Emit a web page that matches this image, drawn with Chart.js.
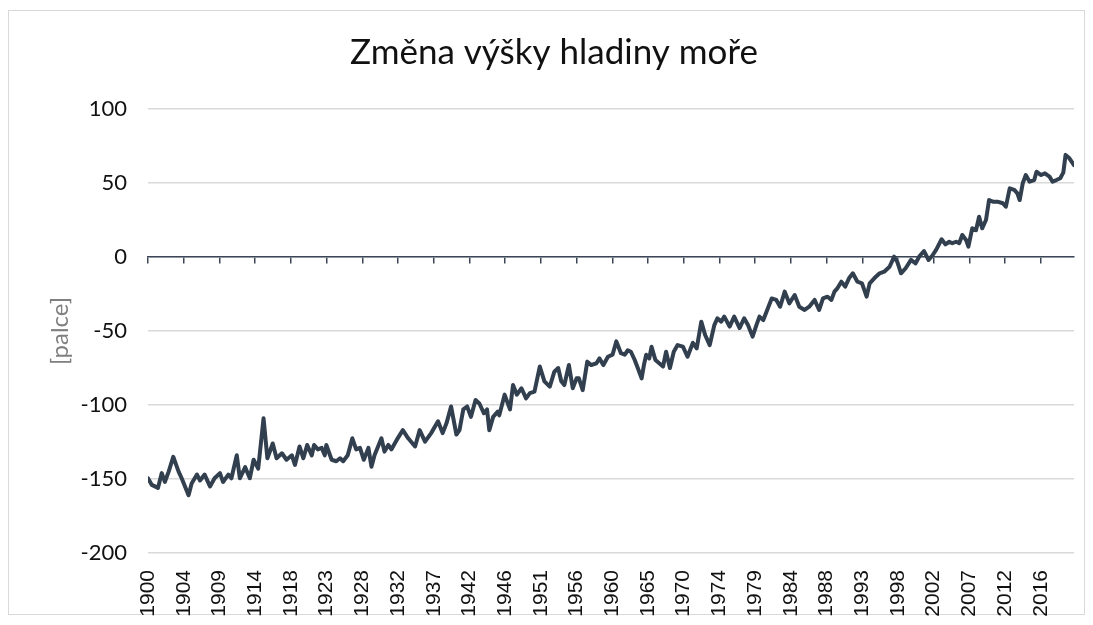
<!DOCTYPE html>
<html>
<head>
<meta charset="utf-8">
<script src="https://cdn.jsdelivr.net/npm/chart.js@4/dist/chart.umd.min.js"></script>
<style>
  html, body { margin: 0; padding: 0; background: #fff; }
  #frame { position: absolute; left: 8px; top: 10px; right: 8px; bottom: 10px; border: 1px solid #d9d9d9; }
  #wrap { position: absolute; left: 0; top: 0; width: 1093px; height: 625px; }
</style>
</head>
<body>
<div id="frame"></div>
<div id="wrap"><canvas id="chart"></canvas></div>
<script>
// roky (desetinné) a změna hladiny moře
const years = [
  1900.0, 1900.5, 1901.3, 1901.8, 1902.2, 1902.7, 1903.3, 1904.0, 1904.4, 1905.3,
  1905.7, 1906.4, 1906.8, 1907.4, 1908.1, 1908.7, 1909.4, 1909.8, 1910.5, 1910.9,
  1911.6, 1912.0, 1912.7, 1913.3, 1913.8, 1914.4, 1915.1, 1915.6, 1916.3, 1916.8,
  1917.5, 1918.1, 1918.8, 1919.2, 1919.8, 1920.3, 1920.8, 1921.4, 1921.7, 1922.2,
  1922.7, 1923.1, 1923.3, 1924.0, 1924.6, 1925.1, 1925.5, 1926.1, 1926.7, 1927.2,
  1927.7, 1928.2, 1928.8, 1929.2, 1929.6, 1930.5, 1930.9, 1931.4, 1931.8, 1932.5,
  1933.3, 1934.0, 1934.9, 1935.5, 1936.2, 1937.0, 1937.9, 1938.5, 1939.0, 1939.6,
  1940.3, 1940.7, 1941.2, 1941.7, 1942.2, 1942.8, 1943.3, 1943.9, 1944.3, 1944.6,
  1945.1, 1945.7, 1945.9, 1946.6, 1947.3, 1947.7, 1948.2, 1948.8, 1949.4, 1949.9,
  1950.5, 1951.2, 1951.8, 1952.5, 1953.1, 1953.6, 1954.0, 1954.4, 1955.0, 1955.5,
  1956.0, 1956.3, 1956.8, 1957.4, 1957.9, 1958.6, 1959.0, 1959.5, 1960.1, 1960.7,
  1961.2, 1961.8, 1962.3, 1962.7, 1963.1, 1963.6, 1964.0, 1964.5, 1964.8, 1965.1,
  1965.5, 1965.8, 1966.3, 1966.8, 1967.3, 1967.7, 1968.2, 1968.7, 1969.2, 1969.9,
  1970.5, 1971.2, 1971.7, 1972.3, 1972.8, 1973.4, 1974.0, 1974.4, 1974.9, 1975.3,
  1976.0, 1976.6, 1977.3, 1977.9, 1978.4, 1979.0, 1979.5, 1979.9, 1980.4, 1981.0,
  1981.5, 1982.1, 1982.6, 1983.2, 1983.8, 1984.5, 1985.1, 1985.8, 1986.4, 1987.1,
  1987.7, 1988.2, 1988.8, 1989.3, 1989.7, 1990.1, 1990.6, 1991.1, 1991.6, 1992.1,
  1992.7, 1993.3, 1993.9, 1994.3, 1994.9, 1995.6, 1996.2, 1996.9, 1997.5, 1997.9,
  1998.4, 1999.0, 1999.7, 2000.3, 2000.8, 2001.4, 2002.0, 2002.5, 2003.0, 2003.7,
  2004.2, 2004.7, 2005.1, 2005.6, 2006.0, 2006.4, 2006.9, 2007.2, 2007.7, 2008.2,
  2008.6, 2009.0, 2009.5, 2009.9, 2010.4, 2011.0, 2011.7, 2012.1, 2012.6, 2013.2,
  2013.6, 2013.9, 2014.3, 2014.7, 2015.2, 2015.8, 2016.1, 2016.7, 2017.2, 2017.8,
  2018.2, 2018.7, 2019.2, 2019.6, 2019.9, 2020.4, 2021.0
];
const seaLevel = [
  -149.5, -154, -156, -146, -152, -145, -135, -145, -149.5, -161,
  -153, -147, -151, -147, -155, -149.5, -146, -152, -147, -149.5,
  -134, -149.5, -142, -149.5, -137, -143, -109, -136, -126, -136,
  -132.6, -137, -134, -140.5, -128, -136, -127, -134, -127, -130,
  -129, -134, -127, -137, -138, -136, -138, -134, -122.5, -130,
  -129, -137, -129, -141.7, -134, -122.5, -131.5, -127, -130, -123.6,
  -117, -122.5, -128, -117, -124.8, -119, -111, -119, -112.4, -101,
  -120, -117, -103, -101, -108, -96.6, -99, -105.6, -103, -117,
  -108, -104.5, -107, -93, -103, -86.5, -93, -88.7, -95.5, -92,
  -91, -74, -84, -87.6, -77.5, -75, -84, -86.5, -73, -88.7,
  -82, -82, -90, -70.7, -73, -71.8, -68.5, -73, -67.4, -66,
  -57, -65, -66, -63, -64, -69.6, -75, -82, -73, -66,
  -68.5, -60.6, -69.6, -71.8, -74, -64, -75, -64, -59.5, -60.6,
  -67.4, -58, -61.7, -43.7, -52.7, -59.5, -46, -41.4, -43.7, -40.3,
  -47, -40.3, -48, -41.4, -46, -53.8, -46, -40.3, -42.6, -34.7,
  -28, -29, -33.6, -23.4, -31.3, -25.7, -33.6, -35.8, -33.6, -29,
  -35.8, -28, -26.8, -29, -23.4, -21, -16.7, -20, -14.4, -11,
  -16.7, -17.8, -26.8, -17.8, -14.4, -11, -9.9, -6.6, 0.2, -3.2,
  -11, -7.6, -2, -4.3, 0.5, 4, -2, 1, 5, 12,
  8.5, 10.3, 9.3, 10.3, 9.3, 14.9, 11.5, 7, 19.4, 18.2,
  27.2, 19.4, 25, 38.5, 37.4, 37.4, 36.3, 34, 46.4, 45.3,
  43, 38.5, 49.8, 55.4, 50.9, 52, 57.6, 55.4, 56.5, 54.3,
  50.9, 52, 53.2, 57, 69, 66.7, 62
];
const tickLabels = [
  '1900', '1904', '1909', '1914', '1918', '1923', '1928', '1932', '1937',
  '1942', '1946', '1951', '1956', '1960', '1965', '1970', '1974', '1979',
  '1984', '1988', '1993', '1998', '2002', '2007', '2012', '2016'
];
const firstYear = 1900;
const lastYear = 2021;
const tickStep = 14 / 3; // popisek u každého 14. měření (3 měření za rok)

const lineColor = '#323f4f';
const textColor = '#111111';

function setYearTicks(scale) {
  scale.ticks = tickLabels.map((label, i) => ({ value: firstYear + i * tickStep }));
}

Chart.defaults.font.family = 'Lato';

new Chart(document.getElementById('chart'), {
  type: 'line',
  data: {
    datasets: [{
      label: 'Změna výšky hladiny moře',
      data: years.map((x, i) => ({ x: x, y: seaLevel[i] })),
      borderColor: lineColor,
      borderWidth: 4,
      borderJoinStyle: 'round',
      borderCapStyle: 'round',
      pointRadius: 0,
      tension: 0,
      fill: false
    }]
  },
  options: {
    responsive: true,
    maintainAspectRatio: false,
    animation: false,
    layout: { padding: { left: 34, right: 19, top: 0, bottom: 0 } },
    plugins: {
      legend: { display: false },
      tooltip: { enabled: false },
      title: {
        display: true,
        text: 'Změna výšky hladiny moře',
        color: textColor,
        font: { family: 'Lato', size: 35, weight: 'normal' },
        padding: { top: 32, bottom: 35 }
      }
    },
    scales: {
      x: {
        type: 'linear',
        position: 'bottom',
        min: firstYear,
        max: lastYear,
        afterBuildTicks: setYearTicks,
        afterFit: scale => { scale.height = 72; },
        grid: { display: false, drawTicks: false },
        border: { display: false },
        ticks: {
          autoSkip: false,
          minRotation: 90,
          maxRotation: 90,
          padding: 17,
          color: textColor,
          font: { family: "'Liberation Sans', Arial, sans-serif", size: 21 },
          callback: (value, i) => tickLabels[i]
        }
      },
      x2: {
        type: 'linear',
        position: { y: 0 },
        min: firstYear,
        max: lastYear,
        afterBuildTicks: setYearTicks,
        ticks: { display: false, autoSkip: false },
        grid: { drawOnChartArea: false, drawTicks: true, tickLength: 6, color: '#3a4556', lineWidth: 1.5 },
        border: { display: true, color: '#3a4556', width: 1.5 }
      },
      y: {
        min: -200,
        max: 100,
        afterFit: scale => { scale.width = 114; },
        ticks: {
          stepSize: 50,
          padding: 21,
          color: textColor,
          font: { family: 'Lato', size: 22 }
        },
        grid: { color: '#d9d9d9', lineWidth: 1.5, drawTicks: false },
        border: { display: false },
        title: {
          display: true,
          text: '[palce]',
          color: '#808080',
          font: { family: 'Lato', size: 24 },
          padding: { top: 12, bottom: 0 }
        }
      }
    }
  }
});
</script>
</body>
</html>
